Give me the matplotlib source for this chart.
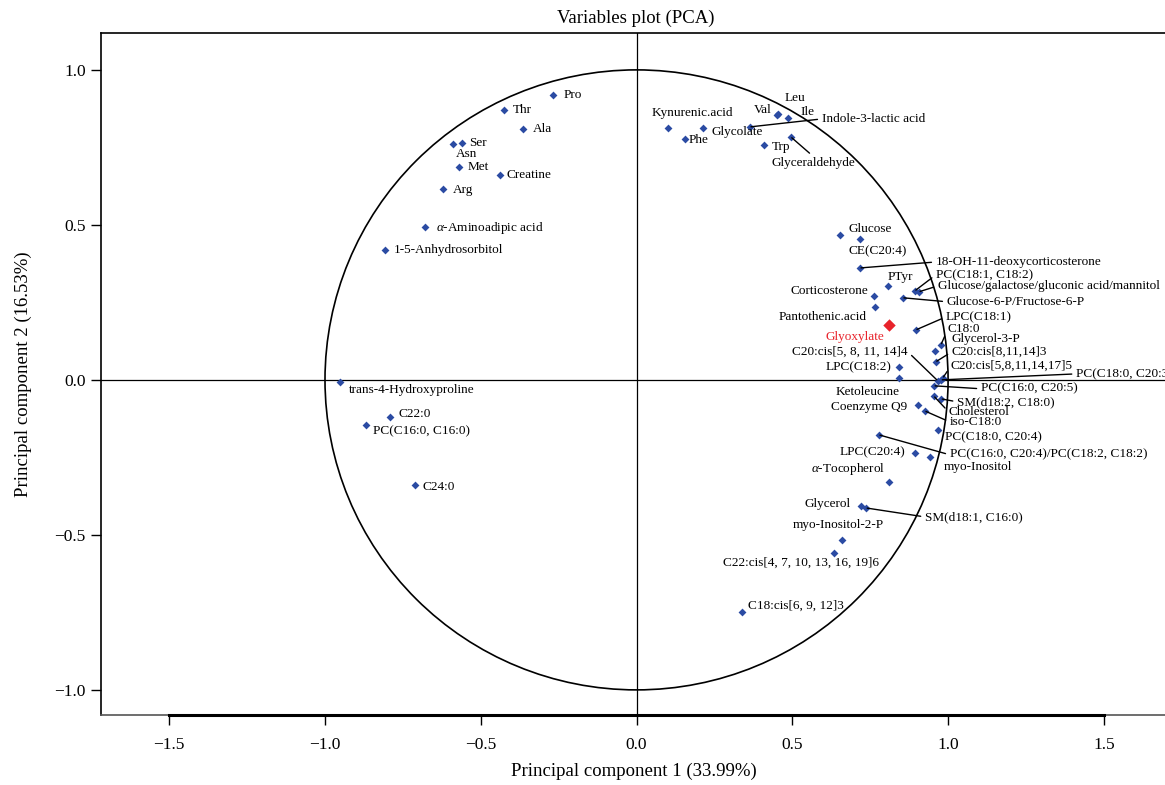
import matplotlib
matplotlib.use("Agg")
import matplotlib.pyplot as plt
from matplotlib.patches import Circle

plt.rcParams['font.family'] = ['Liberation Serif', 'DejaVu Serif']
plt.rcParams['mathtext.fontset'] = 'custom'
plt.rcParams['mathtext.it'] = 'Liberation Serif:italic'
plt.rcParams['mathtext.rm'] = 'Liberation Serif'

# variables: name, PC1 loading, PC2 loading
names = [
    'Pro', 'Thr', 'Ala', 'Ser', 'Asn', 'Met', 'Creatine', 'Arg',
    r'$\alpha$-Aminoadipic acid', '1-5-Anhydrosorbitol',
    'trans-4-Hydroxyproline', 'C22:0', 'PC(C16:0, C16:0)', 'C24:0',
    'Kynurenic.acid', 'Phe', 'Glycolate', 'Val', 'Leu', 'Ile',
    'Indole-3-lactic acid', 'Trp', 'Glyceraldehyde',
    'Glucose', 'CE(C20:4)', '18-OH-11-deoxycorticosterone', 'PTyr',
    'PC(C18:1, C18:2)', 'Glucose/galactose/gluconic acid/mannitol',
    'Glucose-6-P/Fructose-6-P', 'Corticosterone', 'Pantothenic.acid',
    'LPC(C18:1)', 'C18:0', 'Glycerol-3-P', 'C20:cis[8,11,14]3',
    'C20:cis[5,8,11,14,17]5', 'C20:cis[5, 8, 11, 14]4', 'LPC(C18:2)',
    'Ketoleucine', 'PC(C18:0, C20:3)', 'PC(C16:0, C20:5)',
    'SM(d18:2, C18:0)', 'Cholesterol', 'Coenzyme Q9', 'iso-C18:0',
    'PC(C18:0, C20:4)', 'PC(C16:0, C20:4)/PC(C18:2, C18:2)', 'LPC(C20:4)',
    'myo-Inositol', r'$\alpha$-Tocopherol', 'Glycerol', 'SM(d18:1, C16:0)',
    'myo-Inositol-2-P', 'C22:cis[4, 7, 10, 13, 16, 19]6', 'C18:cis[6, 9, 12]3',
]
pc1 = [
    -0.267, -0.427, -0.363, -0.559, -0.588, -0.569, -0.437, -0.620,
    -0.678, -0.806,
    -0.951, -0.790, -0.867, -0.710,
    0.100, 0.154, 0.212, 0.450, 0.453, 0.485,
    0.363, 0.408, 0.495,
    0.652, 0.716, 0.716, 0.806,
    0.893, 0.906,
    0.854, 0.761, 0.765,
    0.896, 0.977, 0.957, 0.960,
    0.983, 0.967, 0.842,
    0.842, 0.977, 0.954,
    0.977, 0.954, 0.903, 0.925,
    0.967, 0.777, 0.893,
    0.941, 0.810, 0.720, 0.736,
    0.659, 0.633, 0.337,
]
pc2 = [
    0.919, 0.871, 0.810, 0.765, 0.761, 0.687, 0.661, 0.616,
    0.494, 0.419,
    -0.006, -0.119, -0.145, -0.339,
    0.813, 0.777, 0.813, 0.855, 0.858, 0.845,
    0.816, 0.758, 0.784,
    0.468, 0.455, 0.361, 0.303,
    0.287, 0.284,
    0.265, 0.271, 0.235,
    0.161, 0.113, 0.094, 0.058,
    0.006, -0.003, 0.042,
    0.006, 0.000, -0.019,
    -0.061, -0.052, -0.081, -0.100,
    -0.161, -0.177, -0.235,
    -0.248, -0.329, -0.406, -0.413,
    -0.516, -0.558, -0.748,
]

# highlighted variable
hl_name = 'Glyoxylate'
hl_pc1 = 0.810
hl_pc2 = 0.177

# label placement: offset in pixels, alignment, leader line
layout = {
    'Pro': (10, 0, 'left', False), 'Thr': (9, 0, 'left', False),
    'Ala': (9, 0, 'left', False), 'Ser': (7, 0, 'left', False),
    'Asn': (3, -10, 'left', False), 'Met': (8, 0, 'left', False),
    'Creatine': (6, 0, 'left', False), 'Arg': (9, -1, 'left', False),
    r'$\alpha$-Aminoadipic acid': (11, -1, 'left', False),
    '1-5-Anhydrosorbitol': (8, 0, 'left', False),
    'trans-4-Hydroxyproline': (9, -8, 'left', False),
    'C22:0': (8, 3, 'left', False), 'PC(C16:0, C16:0)': (7, -6, 'left', False),
    'C24:0': (7, -2, 'left', False),
    'Kynurenic.acid': (25, 15, 'center', False), 'Phe': (4, -1, 'left', False),
    'Glycolate': (9, -4, 'left', False), 'Val': (-5, 5, 'right', False),
    'Leu': (17, 16, 'center', False), 'Ile': (13, 6, 'left', False),
    'Indole-3-lactic acid': (72, 8, 'left', True), 'Trp': (8, -2, 'left', False),
    'Glyceraldehyde': (23, -26, 'center', True),
    'Glucose': (9, 6, 'left', False), 'CE(C20:4)': (18, -12, 'center', False),
    '18-OH-11-deoxycorticosterone': (76, 6, 'left', True),
    'PTyr': (13, 9, 'center', False),
    'PC(C18:1, C18:2)': (21, 16, 'left', True),
    'Glucose/galactose/gluconic acid/mannitol': (19, 6, 'left', True),
    'Glucose-6-P/Fructose-6-P': (44, -4, 'left', True),
    'Corticosterone': (-5, 5, 'right', False),
    'Pantothenic.acid': (-8, -10, 'right', False),
    'LPC(C18:1)': (30, 13, 'left', True), 'C18:0': (7, 16, 'left', True),
    'Glycerol-3-P': (17, 12, 'left', False),
    'C20:cis[8,11,14]3': (16, 10, 'left', True),
    'C20:cis[5,8,11,14,17]5': (8, 12, 'left', True),
    'C20:cis[5, 8, 11, 14]4': (-30, 29, 'right', True),
    'LPC(C18:2)': (-7, 0, 'right', False),
    'Ketoleucine': (-31, -14, 'center', False),
    'PC(C18:0, C20:3)': (135, 6, 'left', True),
    'PC(C16:0, C20:5)': (47, -3, 'left', True),
    'SM(d18:2, C18:0)': (16, -3, 'left', True),
    'Cholesterol': (15, -16, 'left', True),
    'Coenzyme Q9': (-49, -2, 'center', False),
    'iso-C18:0': (25, -11, 'left', True),
    'PC(C18:0, C20:4)': (7, -7, 'left', False),
    'PC(C16:0, C20:4)/PC(C18:2, C18:2)': (71, -20, 'left', True),
    'LPC(C20:4)': (-9, 0, 'right', False),
    'myo-Inositol': (14, -10, 'left', False),
    r'$\alpha$-Tocopherol': (-41, 13, 'center', False),
    'Glycerol': (-10, 2, 'right', False),
    'SM(d18:1, C16:0)': (59, -9, 'left', True),
    'myo-Inositol-2-P': (-4, 15, 'center', False),
    'C22:cis[4, 7, 10, 13, 16, 19]6': (-33, -10, 'center', False),
    'C18:cis[6, 9, 12]3': (6, 6, 'left', False),
}

fig = plt.figure(figsize=(11.65, 7.85), dpi=100)
ax = fig.add_axes([101 / 1165, 70 / 785, 1 - 101 / 1165 + 0.001, 682 / 785])
ax.set_xlim(-1.719, 1.70)
ax.set_ylim(-1.081, 1.119)

ax.add_patch(Circle((0, 0), 1.0, fill=False, color='black', lw=1.2))
ax.axhline(0, color='black', lw=0.9)
ax.axvline(0, color='black', lw=0.9)

ax.scatter(pc1, pc2, marker='D', s=16, color='#2b4ba3', zorder=3, linewidths=0)
ax.scatter([hl_pc1], [hl_pc2], marker='D', s=40, color='#e8232b', zorder=3, linewidths=0)

for n, x, y in zip(names, pc1, pc2):
    dx, dy, ha, line = layout[n]
    arrow = None
    if line:
        if ha == 'left':
            rp = (0, 0.5)
        elif ha == 'right':
            rp = (1, 0.5)
        else:
            rp = (0.5, 1) if dy < 0 else (0.5, 0)
        arrow = dict(arrowstyle='-', color='black', lw=1.0, relpos=rp,
                     shrinkA=1, shrinkB=1)
    ax.annotate(n, (x, y), xytext=(dx, dy), textcoords='offset pixels',
                ha=ha, va='center', fontsize=9.5, arrowprops=arrow,
                annotation_clip=False)

ax.annotate(hl_name, (hl_pc1, hl_pc2), xytext=(-5, -12), textcoords='offset pixels',
            ha='right', va='center', fontsize=9.5, color='#e8232b')

ax.set_xticks([-1.5, -1.0, -0.5, 0.0, 0.5, 1.0, 1.5])
ax.set_yticks([-1.0, -0.5, 0.0, 0.5, 1.0])
ax.tick_params(direction='out', length=7, width=1, labelsize=12.5)
ax.tick_params(axis='x', pad=9)
ax.tick_params(axis='y', pad=4)

for side in ['left', 'top']:
    ax.spines[side].set_linewidth(1.2)
ax.spines['right'].set_visible(False)
ax.spines['bottom'].set_color('#555555')
ax.spines['bottom'].set_linewidth(1.2)
ax.plot([-1.5, 1.5], [0, 0], transform=ax.get_xaxis_transform(),
        color='black', lw=2.2, clip_on=False, zorder=5)

ax.set_xlabel('Principal component 1 (33.99%)', fontsize=13.5, labelpad=7)
ax.set_ylabel('Principal component 2 (16.53%)', fontsize=13.5, labelpad=16)
fig.text(636 / 1165, 1 - 18 / 785, 'Variables plot (PCA)', ha='center', va='center',
         fontsize=13.5)

fig.savefig('out.png', dpi=100)
